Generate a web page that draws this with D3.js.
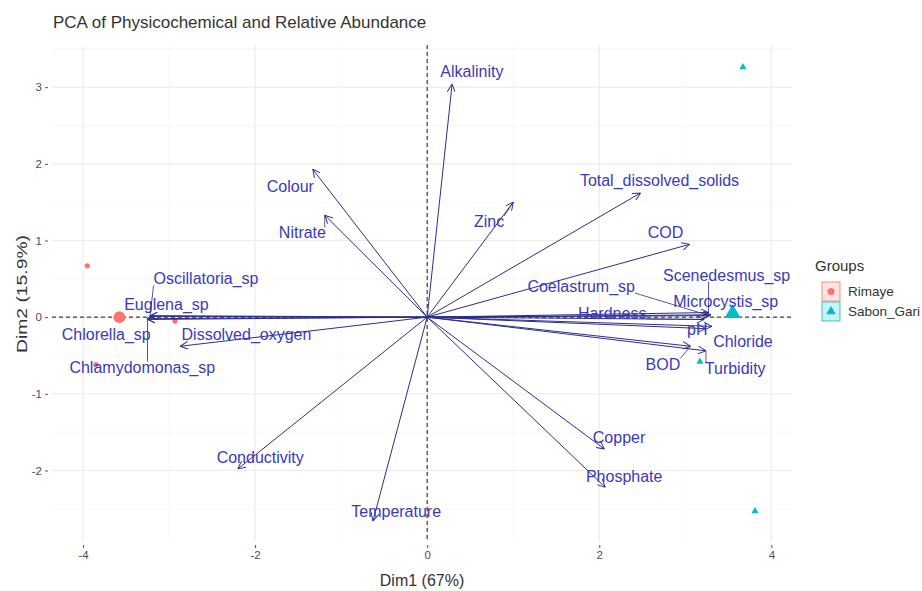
<!DOCTYPE html>
<html>
<head>
<meta charset="utf-8">
<script src="https://cdn.jsdelivr.net/npm/d3@7"></script>
<style>
  body { margin: 0; background: #fff; }
  svg { display: block; font-family: "Liberation Sans", Arial, sans-serif; }
</style>
</head>
<body>
<svg id="chart" width="922" height="591"></svg>
<script>
// data

const groups = ['Rimaye', 'Sabon_Gari']
const groupColors = ['#F8766D', '#00BFC4']

const indGroup = ['Rimaye', 'Rimaye', 'Rimaye', 'Sabon_Gari', 'Sabon_Gari', 'Sabon_Gari']
const indDim1 = [-3.95, -2.93, -3.85, 3.67, 3.81, 3.17]
const indDim2 = [0.67, -0.05, -0.62, 3.26, -2.53, -0.58]

const varNames = ['Alkalinity', 'Colour', 'Nitrate', 'Zinc', 'Total_dissolved_solids', 'COD',
  'Coelastrum_sp', 'Scenedesmus_sp', 'Microcystis_sp', 'Hardness', 'pH', 'Chloride', 'BOD',
  'Turbidity', 'Copper', 'Phosphate', 'Temperature', 'Conductivity', 'Dissolved_oxygen',
  'Chlorella_sp', 'Euglena_sp', 'Oscillatoria_sp', 'Chlamydomonas_sp']
const varDim1 = [0.29, -1.33, -1.19, 1.0, 2.48, 3.05, 3.28, 3.27, 3.30, 3.22, 3.24, 3.31, 3.06,
  3.24, 2.06, 2.07, -0.63, -2.2, -2.87, -3.26, -3.23, -3.22, -3.25]
const varDim2 = [3.04, 1.93, 1.33, 1.50, 1.62, 0.95, 0.02, 0.06, 0.03, -0.03, -0.15, -0.12, -0.38,
  -0.44, -1.72, -2.22, -2.66, -1.98, -0.38, -0.02, 0.01, 0.02, -0.03]
// repelled label positions (data units)
const labelDim1 = [0.52, -1.59, -1.45, 0.72, 2.70, 2.77, 1.79, 3.48, 3.47, 2.15, 3.14, 3.67, 2.74,
  3.58, 2.23, 2.29, -0.36, -1.94, -2.10, -3.73, -3.03, -2.57, -3.31]
const labelDim2 = [3.21, 1.71, 1.10, 1.25, 1.79, 1.11, 0.40, 0.55, 0.20, 0.05, -0.16, -0.31, -0.61,
  -0.67, -1.57, -2.08, -2.53, -1.83, -0.22, -0.23, 0.16, 0.50, -0.65]

const xTicks = [-4, -2, 0, 2, 4]
const yTicks = [-2, -1, 0, 1, 2, 3]

//

const svg = d3.select('#chart')
const panel = { left: 52, right: 792, top: 45, bottom: 541 }

const x = d3.scaleLinear()
  .domain([-4.36, 4.24])
  .range([panel.left, panel.right])

const y = d3.scaleLinear()
  .domain([-2.92, 3.55])
  .range([panel.bottom, panel.top])

// grid
const grid = svg.append('g')
const xMinor = d3.range(-5, 5, 1).filter((v) => v % 2 !== 0 && x(v) > panel.left && x(v) < panel.right)
const yMinor = d3.range(-2.5, 3.6, 1).filter((v) => y(v) > panel.top && y(v) < panel.bottom)

grid.selectAll('.xminor').data(xMinor).enter().append('line')
  .attr('x1', (d) => x(d)).attr('x2', (d) => x(d))
  .attr('y1', panel.top).attr('y2', panel.bottom)
  .attr('stroke', '#f2f2f2').attr('stroke-width', 0.6)
grid.selectAll('.yminor').data(yMinor).enter().append('line')
  .attr('y1', (d) => y(d)).attr('y2', (d) => y(d))
  .attr('x1', panel.left).attr('x2', panel.right)
  .attr('stroke', '#f2f2f2').attr('stroke-width', 0.6)
grid.selectAll('.xmajor').data(xTicks).enter().append('line')
  .attr('x1', (d) => x(d)).attr('x2', (d) => x(d))
  .attr('y1', panel.top).attr('y2', panel.bottom)
  .attr('stroke', '#ebebeb').attr('stroke-width', 1.1)
grid.selectAll('.ymajor').data(yTicks).enter().append('line')
  .attr('y1', (d) => y(d)).attr('y2', (d) => y(d))
  .attr('x1', panel.left).attr('x2', panel.right)
  .attr('stroke', '#ebebeb').attr('stroke-width', 1.1)

// axes
const fmt = (d) => String(d)
const xAxis = d3.axisBottom(x).tickValues(xTicks).tickFormat(fmt).tickSize(3).tickPadding(3)
const yAxis = d3.axisLeft(y).tickValues(yTicks).tickFormat(fmt).tickSize(3).tickPadding(3)

const gX = svg.append('g')
  .attr('transform', `translate(0,${panel.bottom + 4})`)
  .call(xAxis)
const gY = svg.append('g')
  .attr('transform', `translate(${panel.left - 4},0)`)
  .call(yAxis)

for (const g of [gX, gY]) {
  g.select('.domain').remove()
  g.selectAll('line').attr('stroke', '#555')
  g.selectAll('text').attr('fill', '#4d4d4d').style('font-size', '11.5px')
}

// zero lines
svg.append('line')
  .attr('x1', panel.left).attr('x2', panel.right)
  .attr('y1', y(0)).attr('y2', y(0))
  .attr('stroke', '#000').attr('stroke-dasharray', '4,3').attr('stroke-width', 0.9)
svg.append('line')
  .attr('x1', x(0)).attr('x2', x(0))
  .attr('y1', panel.top).attr('y2', panel.bottom)
  .attr('stroke', '#000').attr('stroke-dasharray', '4,3').attr('stroke-width', 0.9)

// individuals
const color = d3.scaleOrdinal(groups, groupColors)
const inds = indGroup.map((g, i) => ({ group: g, d1: indDim1[i], d2: indDim2[i] }))
const circle = d3.symbol().type(d3.symbolCircle)
const triangle = d3.symbol().type(d3.symbolTriangle)
const shape = (g) => g === groups[0] ? circle : triangle

svg.append('g').selectAll('path').data(inds).enter().append('path')
  .attr('transform', (d) => `translate(${x(d.d1)},${y(d.d2)})`)
  .attr('d', (d) => shape(d.group).size(22)())
  .attr('fill', (d) => color(d.group))

const means = groups.map((g) => {
  const sub = inds.filter((d) => d.group === g)
  return { group: g, d1: d3.mean(sub, (d) => d.d1), d2: d3.mean(sub, (d) => d.d2) }
})
svg.append('g').selectAll('path').data(means).enter().append('path')
  .attr('transform', (d) => `translate(${x(d.d1)},${y(d.d2)})`)
  .attr('d', (d) => shape(d.group).size(110)())
  .attr('fill', (d) => color(d.group))

// variable arrows
const arrowCol = '#2d2d8a'
svg.append('defs').append('marker')
  .attr('id', 'head')
  .attr('viewBox', '0 0 10 10')
  .attr('refX', 10).attr('refY', 5)
  .attr('markerWidth', 8).attr('markerHeight', 8)
  .attr('markerUnits', 'userSpaceOnUse')
  .attr('orient', 'auto')
  .append('path')
  .attr('d', 'M0,0 L10,5 L0,10')
  .attr('fill', 'none')
  .attr('stroke', arrowCol)
  .attr('stroke-width', 1.2)

const vars = varNames.map((n, i) => ({
  name: n, d1: varDim1[i], d2: varDim2[i], l1: labelDim1[i], l2: labelDim2[i]
}))

svg.append('g').selectAll('line').data(vars).enter().append('line')
  .attr('x1', x(0)).attr('y1', y(0))
  .attr('x2', (d) => x(d.d1)).attr('y2', (d) => y(d.d2))
  .attr('stroke', arrowCol)
  .attr('stroke-width', 1)
  .attr('marker-end', 'url(#head)')

const labels = svg.append('g').selectAll('text').data(vars).enter().append('text')
  .attr('x', (d) => x(d.l1))
  .attr('y', (d) => y(d.l2))
  .attr('dy', '0.35em')
  .attr('text-anchor', 'middle')
  .attr('fill', '#3a3ab8')
  .style('font-size', '16px')
  .text((d) => d.name)

// repel segments from label box to arrow tip
labels.each(function (d) {
  const b = this.getBBox()
  const tx = x(d.d1)
  const ty = y(d.d2)
  const cx = Math.max(b.x, Math.min(tx, b.x + b.width))
  const cy = Math.max(b.y + 3, Math.min(ty, b.y + b.height - 3))
  if (Math.hypot(tx - cx, ty - cy) > 12) {
    svg.append('line')
      .attr('x1', cx).attr('y1', cy)
      .attr('x2', tx).attr('y2', ty)
      .attr('stroke', arrowCol)
      .attr('stroke-width', 0.8)
  }
})

// titles
svg.append('text')
  .attr('x', 53).attr('y', 28)
  .attr('fill', '#333')
  .style('font-size', '17px')
  .text('PCA of Physicochemical and Relative Abundance')

svg.append('text')
  .attr('x', (panel.left + panel.right) / 2).attr('y', 586)
  .attr('text-anchor', 'middle')
  .attr('fill', '#333')
  .style('font-size', '16px')
  .text('Dim1 (67%)')

svg.append('text')
  .attr('transform', 'translate(27,294) rotate(-90)')
  .attr('text-anchor', 'middle')
  .attr('fill', '#333')
  .style('font-size', '15.5px')
  .attr('textLength', 118)
  .attr('lengthAdjust', 'spacingAndGlyphs')
  .text('Dim2 (15.9%)')

// legend
const legend = svg.append('g').attr('transform', 'translate(815,258)')
legend.append('text')
  .attr('x', 0).attr('y', 13)
  .attr('fill', '#333')
  .style('font-size', '15px')
  .text('Groups')

const keys = legend.selectAll('.key').data(groups).enter().append('g')
  .attr('transform', (d, i) => `translate(7,${24 + i * 20})`)
keys.append('rect')
  .attr('width', 18).attr('height', 19)
  .attr('fill', (d) => color(d)).attr('fill-opacity', 0.2)
  .attr('stroke', (d) => color(d)).attr('stroke-width', 0.8)
keys.append('path')
  .attr('transform', 'translate(9,9.5)')
  .attr('d', (d) => shape(d).size(40)())
  .attr('fill', (d) => color(d))
keys.append('text')
  .attr('x', 26).attr('y', 9.5).attr('dy', '0.35em')
  .attr('fill', '#333')
  .style('font-size', '13.5px')
  .text((d) => d)
</script>
</body>
</html>
